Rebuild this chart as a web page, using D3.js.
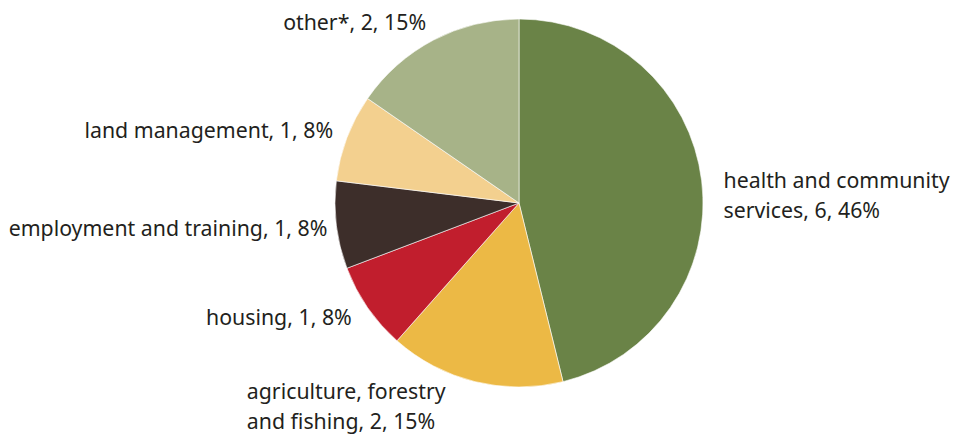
<!DOCTYPE html>
<html>
<head>
<meta charset="utf-8">
<script src="https://cdn.jsdelivr.net/npm/d3@7"></script>
<style>
  body { margin: 0; background: #fff; }
  text { font-family: "Noto Sans", sans-serif; fill: #231f20; }
</style>
</head>
<body>
<script>
// data
var categories = ["health and community services", "agriculture, forestry and fishing", "housing",
                  "employment and training", "land management", "other*"];
var counts = [6, 2, 1, 1, 1, 2];
var percents = [46, 15, 8, 8, 8, 15];
var colours = ["#6a8347", "#ecb945", "#c11e2d", "#3d2e2a", "#f3d08f", "#a7b388"];

// label lines (how each label wraps)
var labelLines = [
    ["health and community", "services, 6, 46%"],
    ["agriculture, forestry", "and fishing, 2, 15%"],
    ["housing, 1, 8%"],
    ["employment and training, 1, 8%"],
    ["land management, 1, 8%"],
    ["other*, 2, 15%"]
];

const WIDTH = 954;
const HEIGHT = 434;
const CX = 519, CY = 203, R = 184;
const LABEL_R = 202;
const LINE_H = 30;
// small nudges for label blocks [dx, dy]
var nudges = [[4, 17], [-25, 8], [-1, 0], [9, 2], [3, 0], [1, -1]];

var svg = d3.select("body")
    .append("svg")
    .attr("width", WIDTH)
    .attr("height", HEIGHT);

var pie = d3.pie().sort(null).value(d => d)(counts);
var arc = d3.arc().innerRadius(0).outerRadius(R);

var g = svg.append("g").attr("transform", `translate(${CX},${CY})`);

g.selectAll("path")
    .data(pie)
    .enter()
    .append("path")
    .attr("d", arc)
    .attr("fill", (d, i) => colours[i])
    .attr("stroke", "#fff")
    .attr("stroke-width", 0.6);

// labels
var labels = g.selectAll("g.label")
    .data(pie)
    .enter()
    .append("g")
    .attr("class", "label");

labels.each(function(d, i) {
    var mid = (d.startAngle + d.endAngle) / 2;
    var x = LABEL_R * Math.sin(mid) + nudges[i][0];
    var y = -LABEL_R * Math.cos(mid) + nudges[i][1];
    var lines = labelLines[i];
    var right = Math.sin(mid) > 0;
    var grp = d3.select(this);
    var texts = grp.selectAll("text")
        .data(lines)
        .enter()
        .append("text")
        .attr("font-size", "21.3px")
        .attr("y", (l, j) => y + (j - (lines.length - 1) / 2) * LINE_H + 7)
        .text(l => l);
    if (right) {
        texts.attr("x", x);
    } else {
        var w = d3.max(texts.nodes(), n => n.getComputedTextLength());
        texts.attr("x", x - w);
    }
});
</script>
</body>
</html>
